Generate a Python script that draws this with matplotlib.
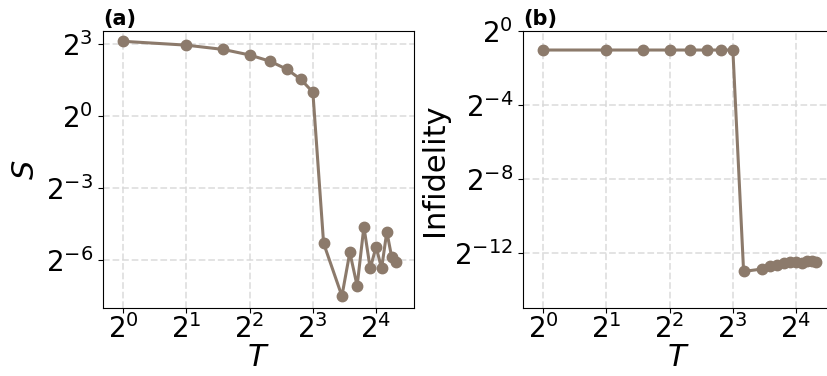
import numpy as np
import matplotlib
matplotlib.use('Agg')
import matplotlib.pyplot as plt
from matplotlib.ticker import NullLocator

# T values (T=10 is not in the data)
T = [1, 2, 3, 4, 5, 6, 7, 8, 9, 11, 12, 13, 14, 15, 16, 17, 18, 19, 20]

# log2 of the values
log2_S = [3.12, 2.96, 2.78, 2.55, 2.29, 1.96, 1.54, 1.0,
          -5.30, -7.50, -5.68, -7.08, -4.61, -6.35, -5.45, -6.35, -4.82, -5.89, -6.07]
log2_infid = [-1.03] * 8 + [-13.02, -12.89, -12.75, -12.66, -12.57, -12.53, -12.53,
                            -12.57, -12.43, -12.43, -12.53]

S = 2.0 ** np.array(log2_S)
infid = 2.0 ** np.array(log2_infid)

color = '#8c7a6b'
W, H = 828, 376

fig = plt.figure(figsize=(W / 100, H / 100), dpi=100)
ax1 = fig.add_axes([103 / W, 68 / H, 311 / W, 277 / H])
ax2 = fig.add_axes([523 / W, 68 / H, 311 / W, 277 / H])


def style(ax, yticks, ylabel):
    ax.set_xscale('log', base=2)
    ax.set_yscale('log', base=2)
    ax.set_xticks([2 ** k for k in range(5)])
    ax.set_yticks(yticks)
    ax.xaxis.set_minor_locator(NullLocator())
    ax.yaxis.set_minor_locator(NullLocator())
    ax.set_xlim(2 ** -0.32, 2 ** 4.6)
    ax.tick_params(labelsize=20)
    ax.tick_params(axis='x', pad=1)
    ax.set_xlabel('$T$', fontsize=22, labelpad=-1)
    ax.set_ylabel(ylabel, fontsize=22)
    ax.grid(True, linestyle='--', color='#d9d9d9', linewidth=1.3, alpha=0.8)
    ax.set_axisbelow(True)


ax1.plot(T, S, '-o', color=color, lw=2.2, ms=7.5)
style(ax1, [2 ** 3, 2 ** 0, 2 ** -3, 2 ** -6], '$S$')
ax1.set_ylim(2 ** -8, 2 ** 3.55)
ax1.set_title('(a)', loc='left', fontsize=15, fontweight='bold', pad=4)

ax2.plot(T, infid, '-o', color=color, lw=2.2, ms=7.5)
style(ax2, [2 ** 0, 2 ** -4, 2 ** -8, 2 ** -12], 'Infidelity')
ax2.set_ylim(2 ** -15, 2 ** 0)
ax2.set_title('(b)', loc='left', fontsize=15, fontweight='bold', pad=4)

fig.savefig('out.png', dpi=100)
